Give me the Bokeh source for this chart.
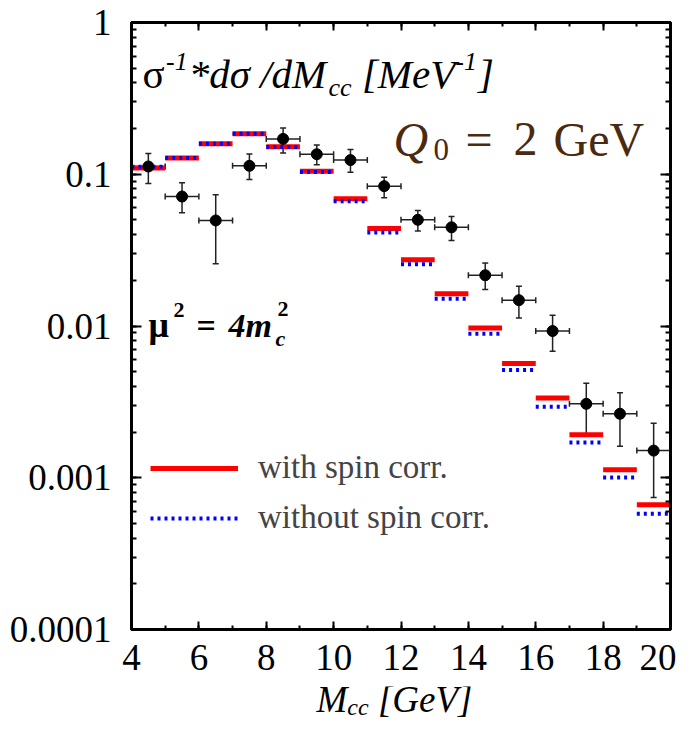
from bokeh.plotting import figure
from bokeh.layouts import column
from bokeh.models import (Range1d, SingleIntervalTicker, LogTicker, LinearAxis, LogAxis,
                          CustomJSTickFormatter, Label, Legend, LegendItem, Whisker,
                          TeeHead, ColumnDataSource)
from bokeh.embed import file_html
from bokeh.resources import INLINE

# ---------------- data ----------------
bin_lo = [4, 5, 6, 7, 8, 9, 10, 11, 12, 13, 14, 15, 16, 17, 18, 19]
bin_hi = [5, 6, 7, 8, 9, 10, 11, 12, 13, 14, 15, 16, 17, 18, 19, 20]
with_spin = [0.110, 0.128, 0.159, 0.185, 0.152, 0.1047, 0.0689, 0.0439, 0.0273, 0.0163,
             0.00969, 0.00566, 0.00335, 0.00192, 0.00113, 0.000664]
without_spin = [0.112, 0.128, 0.159, 0.185, 0.151, 0.1035, 0.0665, 0.0413, 0.0255, 0.0151,
                0.0089, 0.00512, 0.00294, 0.00171, 0.001003, 0.00058]

data_x = [4.5, 5.5, 6.5, 7.5, 8.5, 9.5, 10.5, 11.5, 12.5, 13.5, 14.5, 15.5, 16.5, 17.5, 18.5, 19.5]
data_y = [0.1125, 0.0713, 0.0496, 0.1137, 0.171, 0.1355, 0.124, 0.0835, 0.0501, 0.0447,
          0.0216, 0.0148, 0.00927, 0.00307, 0.00264, 0.00151]
data_hi = [0.137, 0.0879, 0.0732, 0.136, 0.202, 0.156, 0.1456, 0.0956, 0.0577, 0.0527,
           0.026, 0.0183, 0.01178, 0.0042, 0.00363, 0.00229]
data_lo = [0.0869, 0.0557, 0.0257, 0.0923, 0.138, 0.1154, 0.103, 0.070, 0.0423, 0.0366,
           0.0174, 0.0113, 0.00682, 0.0019, 0.00161, 0.00074]

y_ticks = [0.0001, 0.001, 0.01, 0.1, 1]
y_tick_labels = ["0.0001", "0.001", "0.01", "0.1", "1"]

legend_labels = ["with spin corr.", "without spin corr."]

# ---------------- figure ----------------
W = 676
H1, H2 = 686, 31
FL, FT, FR, FB = 131, 22, 6, H1 - 629   # frame: x 131..670, y 22..629
SERIF = "Liberation Serif"

p = figure(width=W, height=H1, x_range=Range1d(4, 20), y_range=Range1d(1e-4, 1),
           y_axis_type="log", output_backend="svg", toolbar_location=None,
           min_border_left=FL, min_border_right=FR, min_border_top=FT, min_border_bottom=FB)
p.grid.visible = False
p.outline_line_color = "black"
p.outline_line_width = 3
p.background_fill_color = "white"
p.border_fill_color = "white"

ytick_fmt = CustomJSTickFormatter(args=dict(tv=y_ticks, tl=y_tick_labels), code="""
for (let i = 0; i < tv.length; i++) {
  if (Math.abs(Math.log10(tick) - Math.log10(tv[i])) < 1e-6) return tl[i];
}
return '';
""")

def style_axis(ax, major, minor):
    ax.axis_line_width = 3
    ax.axis_line_color = "black"
    ax.major_tick_in = major
    ax.major_tick_out = 0
    ax.minor_tick_in = minor
    ax.minor_tick_out = 0
    ax.major_tick_line_width = 2
    ax.minor_tick_line_width = 2
    ax.major_label_text_font = SERIF
    ax.major_label_text_font_size = "37px"
    ax.major_label_text_color = "black"

xax = p.xaxis[0]
xax.ticker = SingleIntervalTicker(interval=2, num_minor_ticks=2)
style_axis(xax, 8, 4)
xax.major_label_standoff = 15

yax = p.yaxis[0]
yax.ticker = LogTicker(num_minor_ticks=10)
yax.formatter = ytick_fmt
style_axis(yax, 10, 5)
yax.major_label_standoff = 20

empty = CustomJSTickFormatter(code="return '';")
top_ax = LinearAxis(ticker=SingleIntervalTicker(interval=2, num_minor_ticks=2), formatter=empty)
style_axis(top_ax, 8, 4)
top_ax.major_label_text_font_size = "0px"
top_ax.major_label_standoff = 0
p.add_layout(top_ax, "above")

right_ax = LogAxis(ticker=LogTicker(num_minor_ticks=10), formatter=empty)
style_axis(right_ax, 10, 5)
right_ax.major_label_text_font_size = "0px"
right_ax.major_label_standoff = 0
p.add_layout(right_ax, "right")

# ---------------- histograms ----------------
src_h = ColumnDataSource(dict(x0=bin_lo, x1=bin_hi, r=with_spin, b=without_spin))
red_r = p.segment(x0="x0", y0="r", x1="x1", y1="r", source=src_h,
                  line_color="#ff0000", line_width=5, line_cap="butt")
blue_r = p.segment(x0="x0", y0="b", x1="x1", y1="b", source=src_h,
                   line_color="#0000ff", line_width=4, line_dash="3 4", line_cap="butt")

# ---------------- data points ----------------
src_p = ColumnDataSource(dict(x=data_x, y=data_y, lo=data_lo, hi=data_hi, xl=bin_lo, xh=bin_hi))
ecol = "#222222"
p.add_layout(Whisker(source=src_p, base="x", lower="lo", upper="hi", dimension="height",
                     line_color=ecol, line_width=1.5,
                     upper_head=TeeHead(size=6, line_color=ecol, line_width=1.5),
                     lower_head=TeeHead(size=6, line_color=ecol, line_width=1.5)))
p.add_layout(Whisker(source=src_p, base="y", lower="xl", upper="xh", dimension="width",
                     line_color=ecol, line_width=1.5,
                     upper_head=TeeHead(size=6, line_color=ecol, line_width=1.5),
                     lower_head=TeeHead(size=6, line_color=ecol, line_width=1.5)))
p.scatter(x="x", y="y", source=src_p, size=11, color="black")

# ---------------- legend ----------------
legend = Legend(items=[LegendItem(label=legend_labels[0], renderers=[red_r]),
                       LegendItem(label=legend_labels[1], renderers=[blue_r])],
                location=(19, 93), label_text_font=SERIF, label_text_font_size="33px",
                glyph_width=88, glyph_height=30, label_height=30, spacing=13,
                padding=0, margin=0, label_standoff=20,
                border_line_color=None, background_fill_alpha=0)
p.add_layout(legend)

# ---------------- texts ----------------
WID = {
    "normal": {" ": 0.25, "=": 0.564, "σ": 0.55, "μ": 0.5, "G": 0.722, "e": 0.444, "V": 0.722},
    "italic": {" ": 0.25, "*": 0.5, "d": 0.5, "σ": 0.55, "/": 0.278, "M": 0.833, "c": 0.444,
               "[": 0.389, "]": 0.389, "G": 0.722, "e": 0.444, "V": 0.611, "-": 0.333,
               "1": 0.5, "m": 0.722, "4": 0.5},
    "bold italic": {" ": 0.25, "=": 0.57, "4": 0.5, "m": 0.778, "c": 0.444, "μ": 0.576},
}
BASE_SHIFT = 0.3   # rendered baseline sits ~0.3em below the anchor; compensate

def twidth(text, size, style):
    return sum(WID.get(style, {}).get(ch, 0.5) for ch in text) * size

def put(fig, x0, y0, text, X, Y, size, style="normal", color="black"):
    # X, Y: wanted baseline position on the picture; (x0, y0) = frame's left/bottom there
    Ya = Y - BASE_SHIFT * size
    fig.add_layout(Label(x=X - x0, y=y0 - Ya, x_units="screen", y_units="screen", text=text,
                         text_font=SERIF, text_font_size=f"{size}px", text_font_style=style,
                         text_color=color, text_baseline="alphabetic", text_align="left"))

def run(fig, x0, y0, pieces, X0, Y0):
    x = X0
    for text, size, style, dy, gap in pieces:
        x += gap
        put(fig, x0, y0, text, x, Y0 + dy, size, style)
        x += twidth(text, size, style)

F, S = 41, 26
run(p, 131, 629,
    [("σ", F, "normal", 0, 0), ("-1", S, "italic", -17, 1), ("*dσ /dM", F, "italic", 0, 1),
     ("cc", S, "italic", 9, 0), ("[MeV", F, "italic", 0, 0.25 * F), ("-1", S, "italic", -17, 0),
     ("]", F, "italic", 0, 1)], 142, 86)

# Q0 = 2 GeV
QC = "#4a2a10"
put(p, 131, 629, "Q", 393, 153, 48, "italic", QC)
put(p, 131, 629, "0", 433, 158, 31, "normal", QC)
put(p, 131, 629, "=", 465, 153, 48, "normal", QC)
put(p, 131, 629, "2", 513, 153, 48, "normal", QC)
put(p, 131, 629, "GeV", 553, 153, 48, "normal", QC)

# mu^2 = 4 m_c^2
put(p, 131, 629, "μ", 148, 335, 36, "bold")
put(p, 131, 629, "2", 173, 316, 22, "bold")
put(p, 131, 629, "=", 196, 335, 34, "bold")
put(p, 131, 629, "4m", 228, 335, 34, "bold italic")
put(p, 131, 629, "2", 277, 315, 22, "bold")
put(p, 131, 629, "c", 275, 345, 22, "bold italic")

# ---------------- x-axis title (separate strip below the plot) ----------------
p2 = figure(width=W, height=H2, x_range=Range1d(0, 1), y_range=Range1d(0, 1),
            output_backend="svg", toolbar_location=None, min_border=0,
            x_axis_location=None, y_axis_location=None)
p2.grid.visible = False
p2.outline_line_color = None
p2.background_fill_color = "white"
p2.border_fill_color = "white"

FX, SX = 37, 24
# the strip's frame is aligned with the main frame (left edge at x = 131)
run(p2, 131, H1 + H2,
    [("M", FX, "italic", 0, 0), ("cc", SX, "italic", 4, 0), ("[GeV]", FX, "italic", 0, 0.25 * FX)],
    316, 710)

layout = column(p, p2, spacing=0)
open("out.html", "w").write(file_html(layout, INLINE))
